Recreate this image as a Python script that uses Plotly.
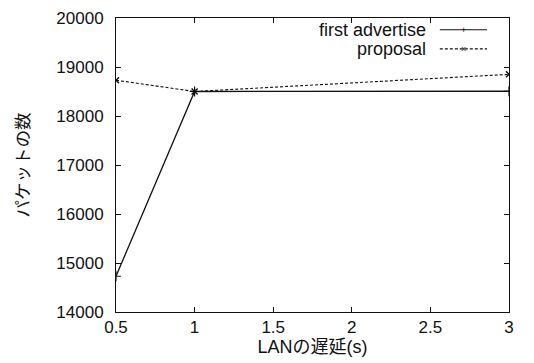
import plotly.graph_objects as go

delay = [0.5, 1, 3]
first_advertise = [14730, 18500, 18505]
proposal = [18730, 18500, 18850]

x_ticks = [0.5, 1, 1.5, 2, 2.5, 3]
x_ticktext = ["0.5", "1", "1.5", "2", "2.5", "3"]
y_ticks = [14000, 15000, 16000, 17000, 18000, 19000, 20000]
y_ticktext = ["14000", "15000", "16000", "17000", "18000", "19000", "20000"]

FONT = "Liberation Sans, Arial, Noto Sans CJK JP, sans-serif"
INK = "#111111"

fig = go.Figure()
fig.add_trace(go.Scatter(
    x=delay, y=first_advertise, mode="lines+markers", name="first advertise",
    line=dict(color=INK, width=1.3),
    marker=dict(symbol="cross-thin", size=7, line=dict(color=INK, width=1.2)),
    showlegend=False,
))
fig.add_trace(go.Scatter(
    x=delay, y=proposal, mode="lines+markers", name="proposal",
    line=dict(color=INK, width=1.1, dash="3px,2px"),
    marker=dict(symbol="x-thin", size=6, line=dict(color=INK, width=1.4)),
    showlegend=False,
))

# custom gnuplot-style legend (text left of sample)
legend_items = [("first advertise", 0.96, "solid", "+"), ("proposal", 0.895, "3px,2px", "×")]
for name, yp, dash, sym in legend_items:
    fig.add_annotation(xref="paper", yref="paper", x=0.795, y=yp, text=name,
                       showarrow=False, xanchor="right", yanchor="middle",
                       font=dict(family=FONT, size=18, color=INK))
    fig.add_shape(type="line", xref="paper", yref="paper", x0=0.824, x1=0.944,
                  y0=yp, y1=yp, line=dict(color=INK, width=1.1, dash=dash))
    fig.add_annotation(xref="paper", yref="paper", x=0.884, y=yp, text=sym,
                       showarrow=False, xanchor="center", yanchor="middle",
                       font=dict(family=FONT, size=9, color=INK))

fig.update_layout(
    width=526, height=355,
    margin=dict(l=108, r=25, t=10, b=51, autoexpand=False),
    paper_bgcolor="white", plot_bgcolor="white",
    font=dict(family=FONT, size=17, color=INK),
)
fig.update_xaxes(
    range=[0.5, 3], tickvals=x_ticks, ticktext=x_ticktext,
    showgrid=False, zeroline=False, showline=True, linecolor=INK, linewidth=1,
    mirror="ticks", ticks="inside", ticklen=5, tickcolor=INK, automargin=False,
    ticklabeloverflow="allow",
    tickfont=dict(family=FONT, size=17, color=INK),
    title=dict(text="LANの遅延(s)", standoff=2, font=dict(family=FONT, size=18, color=INK)),
)
fig.update_yaxes(
    range=[14000, 20000], tickvals=y_ticks, ticktext=y_ticktext,
    showgrid=False, zeroline=False, showline=True, linecolor=INK, linewidth=1,
    mirror="ticks", ticks="inside", ticklen=5, tickcolor=INK, automargin=False,
    ticklabeloverflow="allow",
    tickfont=dict(family=FONT, size=17, color=INK), ticklabelstandoff=8,
    title=dict(text="パケットの数", standoff=22, font=dict(family=FONT, size=17.5, color=INK)),
)

fig.write_html("out.html")
